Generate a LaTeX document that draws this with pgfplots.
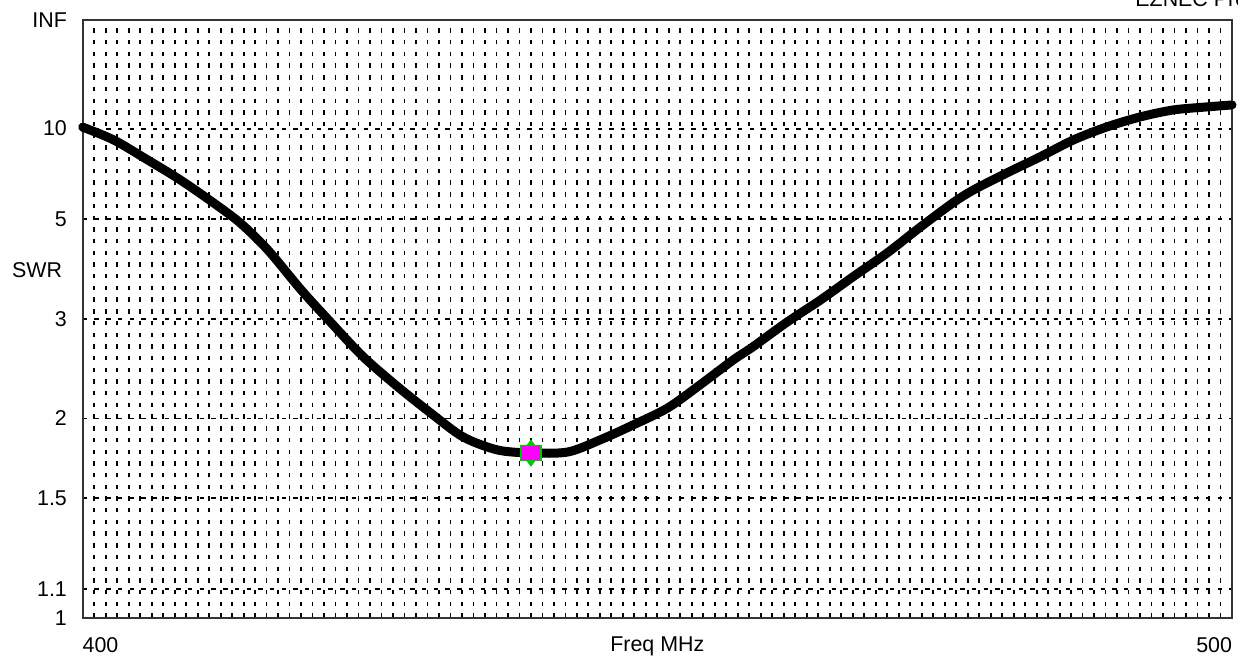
\documentclass[border=0pt]{standalone}
\usepackage{fontspec}
\setmainfont{Liberation Sans}
\usepackage{pgfplots}
\pgfplotsset{compat=1.18}
\definecolor{mkgreen}{RGB}{0,200,0}
\definecolor{mkmag}{RGB}{255,0,255}
\begin{document}
\fontsize{10.7}{13}\selectfont
\begin{tikzpicture}
\path[use as bounding box] (0,0) rectangle (619pt,330.5pt);
\begin{axis}[
  at={(41.35pt,21.65pt)}, anchor=south west,
  width=574.65pt, height=298.85pt, scale only axis,
  xmin=400, xmax=500, ymin=1, ymax=16000,
  y coord trafo/.code={\pgfmathparse{(#1-1)/(#1+1)}},
  /pgf/number format/assume math mode=true,
  clip=false,
  axis line style={black!80, line width=1.1pt},
  xtick={400,500},
  xticklabels={\makebox[0pt][l]{400},\makebox[0pt][r]{500}},
  minor x tick num=99,
  xminorgrids=true,
  ytick={1,1.1,1.5,2,3,5,10,16000},
  yticklabels={\mbox{1},\mbox{1.1},\mbox{1.5},\mbox{2},\mbox{3},\mbox{5},\mbox{10},\mbox{INF}},
  ymajorgrids=true,
  major tick length=0pt, minor tick length=0pt,
  major grid style={black, line width=0.9pt, dash pattern=on 2.2pt off 3.65pt},
  minor grid style={black, line width=0.9pt, dash pattern=on 2.2pt off 3.65pt},
  xticklabel style={anchor=north, inner sep=0pt, yshift=-9.5pt},
  yticklabel style={anchor=east, inner sep=0pt, xshift=-7.7pt},
  xlabel={Freq MHz},
  xlabel style={at={(axis description cs:0.5,0)}, anchor=north, inner sep=0pt, yshift=-9.5pt},
]
\addplot[black, line width=4.5pt, line join=round, line cap=round, smooth] coordinates {
(400,10.15) (402.7,8.96) (405.65,7.54) (408.5,6.47) (411.4,5.53) (413.7,4.89)
(416.1,4.20) (419.0,3.43) (421.6,2.95) (424.4,2.55) (427.4,2.26) (430.3,2.04)
(433.1,1.867) (436.1,1.78) (439.0,1.761) (442.2,1.767) (445.0,1.846) (447.9,1.952)
(450.9,2.081) (453.7,2.275) (456.6,2.516) (458.3,2.656) (461.3,2.958) (464.2,3.269)
(467.0,3.651) (470.0,4.131) (472.9,4.775) (475.7,5.53) (477.5,6.03) (480.4,6.81)
(483.3,7.73) (486.2,8.96) (489.1,10.17) (492.0,11.32) (494.9,12.28) (497.8,12.74)
(500,13.06)
};
\addplot[only marks, mark=diamond*, mark size=6.5pt, mark options={fill=mkgreen, draw=mkgreen}] coordinates {(439,1.76)};
\addplot[only marks, mark=square*, mark size=3.75pt, mark options={xscale=1.33, fill=mkmag, draw=mkgreen, line width=0.7pt}] coordinates {(439,1.76)};
\end{axis}
\node[anchor=west, inner sep=0pt] at (5.85pt,195.35pt) {SWR};
\node[anchor=base west, inner sep=0pt] at (567.5pt,327.15pt) {EZNEC Pro};
\end{tikzpicture}
\end{document}
